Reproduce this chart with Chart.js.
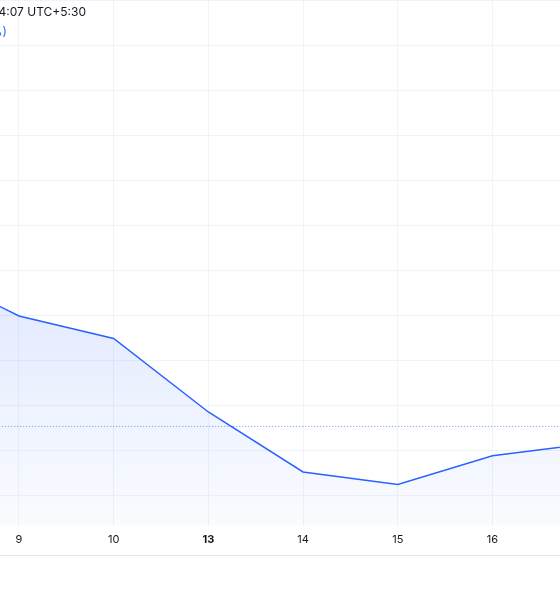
<!DOCTYPE html>
<html>
<head>
<meta charset="utf-8">
<script src="https://cdn.jsdelivr.net/npm/chart.js@4"></script>
<style>
  body { margin: 0; background: #fff; font-family: Inter, "Noto Sans", sans-serif; overflow: hidden; }
  #wrap { position: relative; width: 560px; height: 600px; }
  canvas { position: absolute; left: 0; top: 0; }
  .hdr { position: absolute; white-space: nowrap; font-size: 12px; }
  #baseLine { position: absolute; left: 0; top: 555px; width: 560px; height: 1px; background: #e0e3eb; }
</style>
</head>
<body>
<div id="wrap">
  <canvas id="chart" width="560" height="600"></canvas>
  <div class="hdr" style="right:474px; top:4px; color:#131722;">12 Mar 2026 14:07 UTC+5:30</div>
  <div class="hdr" style="right:553px; top:24px; color:#2962ff;">(%)</div>
  <div id="baseLine"></div>
</div>
<script>
// Category labels (day of month) and values
const days = ["8", "9", "10", "13", "14", "15", "16", "17"];
const values = [5.04, 3.99, 3.49, 1.86, 0.53, 0.25, 0.89, 1.15];
const prevClose = 1.54;
const gridLevels = [0, 1, 2, 3, 4, 5, 6, 7, 8, 9, 10, 11];

const ctx = document.getElementById("chart").getContext("2d");

const grad = ctx.createLinearGradient(0, 300, 0, 533);
grad.addColorStop(0, "rgba(41,98,255,0.13)");
grad.addColorStop(1, "rgba(41,98,255,0.02)");

new Chart(ctx, {
  type: "line",
  data: {
    datasets: [
      {
        data: values.map((v, i) => ({ x: i, y: v })),
        borderColor: "#2962ff",
        borderWidth: 1.5,
        backgroundColor: grad,
        fill: "start",
        pointRadius: 0,
        tension: 0,
      },
      {
        data: [{ x: 0, y: prevClose }, { x: days.length - 1, y: prevClose }],
        borderColor: "rgba(41,98,255,0.7)",
        borderWidth: 1,
        borderDash: [1, 2],
        pointRadius: 0,
        fill: false,
      },
    ],
  },
  options: {
    responsive: false,
    animation: false,
    layout: { padding: { top: 0, bottom: 47, left: 0, right: 0 } },
    plugins: { legend: { display: false }, tooltip: { enabled: false } },
    scales: {
      x: {
        type: "linear",
        min: 0.8,
        max: 6.713,
        afterBuildTicks: (s) => { s.ticks = [1, 2, 3, 4, 5, 6].map((v) => ({ value: v })); },
        ticks: {
          padding: 7,
          color: "#131722",
          font: (c) => ({ size: 11, family: "Inter", weight: c.tick && c.tick.value === 3 ? "bold" : "normal" }),
          callback: (v) => days[v],
        },
        grid: { color: "#f0f3fa", drawTicks: false },
        border: { display: false },
      },
      y: {
        min: -0.665,
        max: 11.0,
        display: true,
        afterBuildTicks: (s) => { s.ticks = gridLevels.map((v) => ({ value: v })); },
        ticks: { display: false },
        grid: { color: "#f0f3fa", drawTicks: false },
        border: { display: false },
        afterFit: (s) => { s.width = 0; },
      },
    },
  },
});
</script>
</body>
</html>
